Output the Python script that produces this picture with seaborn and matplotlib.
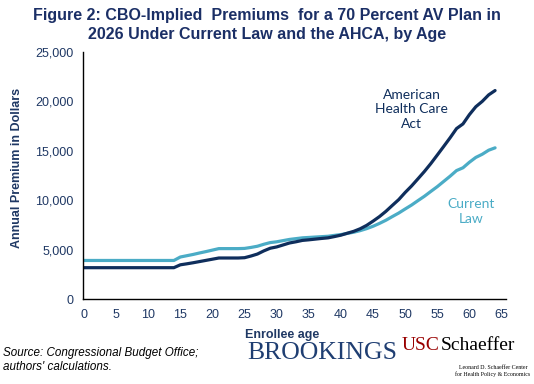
import matplotlib
matplotlib.use("Agg")
import matplotlib.pyplot as plt
import seaborn as sns
import pandas as pd
from matplotlib.ticker import FuncFormatter

# ages 0..64
ages = list(range(65))

current_law = [3900] * 15 + [
    4250, 4380, 4510, 4660, 4800, 4950,            # 15-20
    5100, 5100, 5100, 5100, 5120, 5220, 5340,      # 21-27
    5540, 5710, 5790, 5910, 6030, 6110, 6190,      # 28-34
    6230, 6270, 6310, 6350, 6440, 6520, 6640,      # 35-41
    6760, 6920, 7120, 7360, 7650, 7970, 8340,      # 42-48
    8700, 9110, 9510, 9960, 10400, 10890, 11370,   # 49-55
    11900, 12430, 13000, 13280, 13840, 14330,      # 56-61
    14650, 15060, 15300,                           # 62-64
]

ahca = [3170] * 15 + [
    3460, 3560, 3670, 3790, 3910, 4030,            # 15-20
    4150, 4150, 4150, 4150, 4180, 4350, 4550,      # 21-27
    4870, 5140, 5270, 5470, 5670, 5790, 5930,      # 28-34
    5990, 6060, 6130, 6190, 6320, 6460, 6660,      # 35-41
    6850, 7110, 7450, 7880, 8340, 8870, 9470,      # 42-48
    10060, 10780, 11440, 12170, 12910, 13710, 14570,  # 49-55
    15440, 16320, 17250, 17720, 18660, 19460,      # 56-61
    20000, 20660, 21100,                           # 62-64
]

NAVY = "#1F3864"
DARK = "#0F2E5C"
LIGHT = "#4BACC6"

df = pd.DataFrame({
    "age": ages * 2,
    "premium": current_law + ahca,
    "plan": ["Current Law"] * len(ages) + ["AHCA"] * len(ages),
})

sns.set_style("white")
plt.rcParams["font.family"] = ["Liberation Sans", "DejaVu Sans"]

fig = plt.figure(figsize=(5.34, 3.84), dpi=100)
ax = fig.add_axes([83 / 534, 1 - 299 / 384, (506 - 83) / 534, (299 - 52) / 384])

sns.lineplot(data=df, x="age", y="premium", hue="plan",
             palette={"Current Law": LIGHT, "AHCA": DARK},
             hue_order=["Current Law", "AHCA"],
             linewidth=2.3, legend=False, ax=ax)

ax.set_xlim(-0.15, 65.7)
ax.set_ylim(0, 25000)
ax.set_xticks(range(0, 70, 5))
ax.set_yticks(range(0, 30000, 5000))
ax.yaxis.set_major_formatter(FuncFormatter(lambda v, p: f"{int(v):,}"))
ax.tick_params(length=0, labelsize=9, colors=NAVY, pad=7)
ax.set_xlabel("")
ax.set_ylabel("")
for s in ["top", "right"]:
    ax.spines[s].set_visible(False)
for s in ["left", "bottom"]:
    ax.spines[s].set_color("black")
    ax.spines[s].set_linewidth(1.0)

ax.text(51, 19200, "American\nHealth Care\nAct", color=DARK, fontsize=10,
        family="Lato", ha="center", va="center", linespacing=1.25)
ax.text(60.3, 8880, "Current\nLaw", color=LIGHT, fontsize=10,
        family="Lato", ha="center", va="center", linespacing=1.25)

fig.text(0.5, 1 - 25 / 384,
         "Figure 2: CBO-Implied  Premiums  for a 70 Percent AV Plan in\n"
         "2026 Under Current Law and the AHCA, by Age",
         ha="center", va="center", fontsize=11.5, fontweight="bold",
         color="#1B2F66", linespacing=1.3)

fig.text(17 / 534, 1 - 168 / 384, "Annual Premium in Dollars", rotation=90,
         ha="center", va="center", fontsize=9, fontweight="bold", color=NAVY)
fig.text(282 / 534, 1 - 335 / 384, "Enrollee age", ha="center", va="center",
         fontsize=9, fontweight="bold", color=NAVY)

fig.text(3 / 534, 1 - 360 / 384,
         "Source: Congressional Budget Office;\nauthors' calculations.",
         ha="left", va="center", fontsize=8.4, style="italic", color="black",
         linespacing=1.2)

fig.text(322 / 534, 1 - 353 / 384, "BROOKINGS", ha="center", va="center",
         fontsize=18.5, family="Liberation Serif", color="#1F3E72")
fig.text(421 / 534, 1 - 346 / 384, "USC", ha="center", va="center",
         fontsize=14, family="Liberation Serif", color="#990000")
fig.text(478 / 534, 1 - 346 / 384, "Schaeffer", ha="center", va="center",
         fontsize=14, family="Liberation Serif", color="black")
fig.text(493 / 534, 1 - 371 / 384,
         "Leonard D. Schaeffer Center\nfor Health Policy & Economics",
         ha="center", va="center", fontsize=4.2, family="Liberation Serif",
         color="black", linespacing=1.1)

fig.savefig("out.png", dpi=100)
